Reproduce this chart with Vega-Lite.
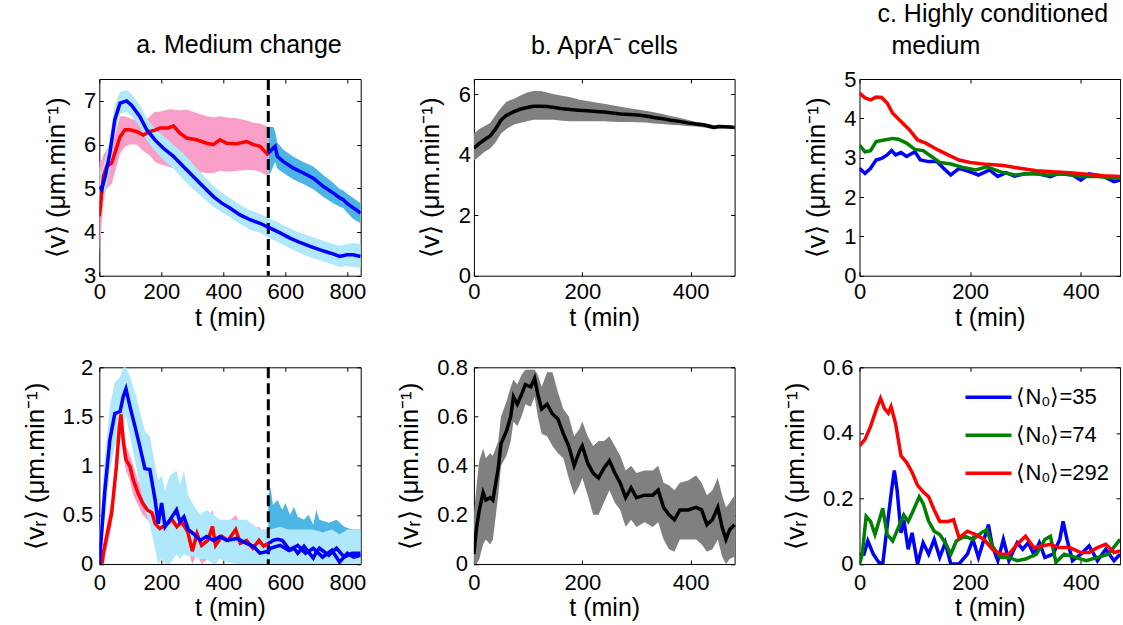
{
  "$schema": "https://vega.github.io/schema/vega-lite/v6.json",
  "padding": {"left": 22.3, "top": 2, "right": 0, "bottom": 0},
  "background": "white",
  "config": {
    "view": {"stroke": null},
    "axis": {"domainColor": "#000", "domainWidth": 1, "tickColor": "#000", "tickWidth": 1, "tickSize": -4, "labelColor": "#000", "titleColor": "#000", "labelFont": "Liberation Sans", "titleFont": "Liberation Sans", "labelFontSize": 22, "titleFontSize": 25, "titleFontWeight": "normal", "grid": false, "zindex": 1, "labelOverlap": false, "labelFlush": false},
    "axisY": {"titleFontSize": 26},
    "title": {"font": "Liberation Sans", "fontSize": 25, "fontWeight": "normal", "color": "#000", "frame": "group", "baseline": "alphabetic"}
  },
  "resolve": {"scale": {"color": "independent"}, "legend": {"color": "independent"}},
  "datasets": {
    "aTop": [
      {"s":"red","t":0,"v":4.36,"lo":3.5,"hi":5.6},{"s":"red","t":8,"v":4.9,"lo":4.2,"hi":5.65},{"s":"red","t":13,"v":5.27,"lo":4.7,"hi":5.75},{"s":"red","t":24,"v":5.5,"lo":5.0,"hi":5.9},{"s":"red","t":40,"v":5.58,"lo":5.1,"hi":6.0},{"s":"red","t":50,"v":5.8,"lo":5.35,"hi":6.2},{"s":"red","t":67,"v":6.18,"lo":5.8,"hi":6.65},{"s":"red","t":83,"v":6.34,"lo":5.95,"hi":6.65},{"s":"red","t":99,"v":6.34,"lo":6.0,"hi":6.6},{"s":"red","t":120,"v":6.3,"lo":6.0,"hi":6.55},{"s":"red","t":142,"v":6.22,"lo":5.85,"hi":6.5},{"s":"red","t":163,"v":6.3,"lo":5.75,"hi":6.65},{"s":"red","t":180,"v":6.33,"lo":5.6,"hi":6.75},{"s":"red","t":196,"v":6.38,"lo":5.55,"hi":6.75},{"s":"red","t":223,"v":6.38,"lo":5.5,"hi":6.8},{"s":"red","t":239,"v":6.43,"lo":5.45,"hi":6.8},{"s":"red","t":260,"v":6.26,"lo":5.42,"hi":6.78},{"s":"red","t":282,"v":6.15,"lo":5.4,"hi":6.8},{"s":"red","t":314,"v":6.11,"lo":5.38,"hi":6.72},{"s":"red","t":346,"v":6.03,"lo":5.35,"hi":6.65},{"s":"red","t":368,"v":6.0,"lo":5.35,"hi":6.62},{"s":"red","t":389,"v":6.11,"lo":5.4,"hi":6.65},{"s":"red","t":411,"v":6.03,"lo":5.38,"hi":6.62},{"s":"red","t":443,"v":6.02,"lo":5.4,"hi":6.6},{"s":"red","t":475,"v":6.07,"lo":5.42,"hi":6.55},{"s":"red","t":497,"v":6.0,"lo":5.42,"hi":6.5},{"s":"red","t":518,"v":5.96,"lo":5.38,"hi":6.48},{"s":"red","t":540,"v":5.8,"lo":5.3,"hi":6.42},{"s":"red","t":545,"v":5.75,"lo":5.25,"hi":6.4},
      {"s":"blue","t":0,"v":5.04,"lo":4.6,"hi":5.5},{"s":"blue","t":7.5,"v":4.97,"lo":4.6,"hi":5.35},{"s":"blue","t":20,"v":5.3,"lo":4.95,"hi":5.7},{"s":"blue","t":34,"v":5.8,"lo":5.45,"hi":6.15},{"s":"blue","t":50,"v":6.57,"lo":6.25,"hi":6.9},{"s":"blue","t":67,"v":6.95,"lo":6.7,"hi":7.2},{"s":"blue","t":88,"v":7.0,"lo":6.75,"hi":7.25},{"s":"blue","t":104,"v":6.9,"lo":6.65,"hi":7.15},{"s":"blue","t":131,"v":6.64,"lo":6.4,"hi":6.9},{"s":"blue","t":153,"v":6.34,"lo":6.1,"hi":6.6},{"s":"blue","t":180,"v":6.1,"lo":5.85,"hi":6.35},{"s":"blue","t":206,"v":5.92,"lo":5.65,"hi":6.2},{"s":"blue","t":239,"v":5.73,"lo":5.45,"hi":6.0},{"s":"blue","t":271,"v":5.5,"lo":5.2,"hi":5.8},{"s":"blue","t":303,"v":5.27,"lo":4.98,"hi":5.55},{"s":"blue","t":335,"v":5.04,"lo":4.78,"hi":5.3},{"s":"blue","t":368,"v":4.81,"lo":4.58,"hi":5.05},{"s":"blue","t":395,"v":4.66,"lo":4.45,"hi":4.9},{"s":"blue","t":421,"v":4.55,"lo":4.35,"hi":4.78},{"s":"blue","t":454,"v":4.39,"lo":4.18,"hi":4.62},{"s":"blue","t":486,"v":4.28,"lo":4.05,"hi":4.5},{"s":"blue","t":518,"v":4.2,"lo":3.98,"hi":4.42},{"s":"blue","t":551,"v":4.09,"lo":3.85,"hi":4.3},{"s":"blue","t":583,"v":3.98,"lo":3.75,"hi":4.2},{"s":"blue","t":615,"v":3.86,"lo":3.62,"hi":4.08},{"s":"blue","t":647,"v":3.76,"lo":3.52,"hi":3.98},{"s":"blue","t":680,"v":3.67,"lo":3.42,"hi":3.9},{"s":"blue","t":712,"v":3.59,"lo":3.35,"hi":3.82},{"s":"blue","t":744,"v":3.52,"lo":3.28,"hi":3.75},{"s":"blue","t":776,"v":3.44,"lo":3.2,"hi":3.68},{"s":"blue","t":798,"v":3.48,"lo":3.22,"hi":3.72},{"s":"blue","t":819,"v":3.48,"lo":3.2,"hi":3.75},{"s":"blue","t":843,"v":3.44,"lo":3.18,"hi":3.72},
      {"s":"blue2","t":545,"v":5.8,"lo":5.3,"hi":6.35},{"s":"blue2","t":552,"v":5.85,"lo":5.35,"hi":6.4},{"s":"blue2","t":561,"v":5.92,"lo":5.5,"hi":6.4},{"s":"blue2","t":567,"v":5.96,"lo":5.6,"hi":6.3},{"s":"blue2","t":574,"v":5.73,"lo":5.45,"hi":6.05},{"s":"blue2","t":594,"v":5.61,"lo":5.35,"hi":5.88},{"s":"blue2","t":626,"v":5.46,"lo":5.2,"hi":5.72},{"s":"blue2","t":658,"v":5.35,"lo":5.1,"hi":5.6},{"s":"blue2","t":690,"v":5.23,"lo":4.98,"hi":5.5},{"s":"blue2","t":723,"v":5.04,"lo":4.8,"hi":5.3},{"s":"blue2","t":755,"v":4.89,"lo":4.65,"hi":5.12},{"s":"blue2","t":776,"v":4.78,"lo":4.58,"hi":4.98},{"s":"blue2","t":787,"v":4.74,"lo":4.55,"hi":4.95},{"s":"blue2","t":798,"v":4.66,"lo":4.45,"hi":4.88},{"s":"blue2","t":819,"v":4.55,"lo":4.3,"hi":4.78},{"s":"blue2","t":843,"v":4.43,"lo":4.2,"hi":4.65}
    ],
    "aBot": [
      {"s":"red","t":0,"v":0,"lo":0,"hi":0.05},{"s":"red","t":10,"v":0.02,"lo":0,"hi":0.1},{"s":"red","t":13,"v":0.11,"lo":0,"hi":0.2},{"s":"red","t":24,"v":0.28,"lo":0.15,"hi":0.4},{"s":"red","t":40,"v":0.52,"lo":0.4,"hi":0.65},{"s":"red","t":55,"v":0.99,"lo":0.85,"hi":1.15},{"s":"red","t":65,"v":1.4,"lo":1.25,"hi":1.5},{"s":"red","t":70,"v":1.52,"lo":1.35,"hi":1.55},{"s":"red","t":77,"v":1.26,"lo":1.1,"hi":1.4},{"s":"red","t":86,"v":1.06,"lo":0.95,"hi":1.2},{"s":"red","t":99,"v":0.99,"lo":0.85,"hi":1.1},{"s":"red","t":110,"v":0.85,"lo":0.7,"hi":1.0},{"s":"red","t":125,"v":0.72,"lo":0.6,"hi":0.85},{"s":"red","t":140,"v":0.62,"lo":0.5,"hi":0.75},{"s":"red","t":155,"v":0.55,"lo":0.45,"hi":0.65},{"s":"red","t":170,"v":0.52,"lo":0.4,"hi":0.65},{"s":"red","t":180,"v":0.41,"lo":0.3,"hi":0.52},{"s":"red","t":195,"v":0.36,"lo":0.25,"hi":0.48},{"s":"red","t":220,"v":0.41,"lo":0.3,"hi":0.52},{"s":"red","t":235,"v":0.45,"lo":0.32,"hi":0.55},{"s":"red","t":250,"v":0.38,"lo":0.25,"hi":0.5},{"s":"red","t":265,"v":0.43,"lo":0.3,"hi":0.55},{"s":"red","t":285,"v":0.33,"lo":0.15,"hi":0.5},{"s":"red","t":300,"v":0.13,"lo":0.0,"hi":0.35},{"s":"red","t":315,"v":0.31,"lo":0.1,"hi":0.5},{"s":"red","t":330,"v":0.19,"lo":0.0,"hi":0.4},{"s":"red","t":350,"v":0.24,"lo":0.05,"hi":0.45},{"s":"red","t":365,"v":0.38,"lo":0.2,"hi":0.55},{"s":"red","t":375,"v":0.19,"lo":0.0,"hi":0.4},{"s":"red","t":395,"v":0.28,"lo":0.1,"hi":0.45},{"s":"red","t":415,"v":0.24,"lo":0.05,"hi":0.42},{"s":"red","t":440,"v":0.35,"lo":0.15,"hi":0.5},{"s":"red","t":455,"v":0.21,"lo":0.02,"hi":0.4},{"s":"red","t":475,"v":0.24,"lo":0.05,"hi":0.4},{"s":"red","t":495,"v":0.16,"lo":0.0,"hi":0.35},{"s":"red","t":515,"v":0.24,"lo":0.08,"hi":0.38},{"s":"red","t":530,"v":0.18,"lo":0.05,"hi":0.32},{"s":"red","t":545,"v":0.21,"lo":0.1,"hi":0.3},
      {"s":"blue","t":0,"v":0,"lo":0,"hi":0.3},{"s":"blue","t":18,"v":0.75,"lo":0.45,"hi":1.1},{"s":"blue","t":34,"v":1.26,"lo":0.95,"hi":1.6},{"s":"blue","t":50,"v":1.53,"lo":1.2,"hi":1.85},{"s":"blue","t":67,"v":1.55,"lo":1.25,"hi":1.9},{"s":"blue","t":77,"v":1.7,"lo":1.4,"hi":2.0},{"s":"blue","t":86,"v":1.78,"lo":1.5,"hi":2.0},{"s":"blue","t":99,"v":1.6,"lo":1.3,"hi":1.9},{"s":"blue","t":115,"v":1.4,"lo":1.05,"hi":1.75},{"s":"blue","t":131,"v":1.19,"lo":0.8,"hi":1.55},{"s":"blue","t":147,"v":0.97,"lo":0.55,"hi":1.35},{"s":"blue","t":163,"v":0.96,"lo":0.4,"hi":1.3},{"s":"blue","t":180,"v":0.65,"lo":0.15,"hi":1.0},{"s":"blue","t":190,"v":0.41,"lo":0,"hi":0.85},{"s":"blue","t":201,"v":0.62,"lo":0.05,"hi":0.9},{"s":"blue","t":212,"v":0.38,"lo":0,"hi":0.75},{"s":"blue","t":228,"v":0.45,"lo":0,"hi":0.9},{"s":"blue","t":249,"v":0.55,"lo":0.1,"hi":0.95},{"s":"blue","t":260,"v":0.43,"lo":0.05,"hi":0.8},{"s":"blue","t":273,"v":0.48,"lo":0.1,"hi":0.95},{"s":"blue","t":287,"v":0.35,"lo":0.08,"hi":0.7},{"s":"blue","t":303,"v":0.31,"lo":0.08,"hi":0.6},{"s":"blue","t":325,"v":0.24,"lo":0.05,"hi":0.5},{"s":"blue","t":346,"v":0.28,"lo":0.05,"hi":0.55},{"s":"blue","t":368,"v":0.24,"lo":0.0,"hi":0.5},{"s":"blue","t":389,"v":0.28,"lo":0.05,"hi":0.45},{"s":"blue","t":411,"v":0.24,"lo":0.02,"hi":0.45},{"s":"blue","t":443,"v":0.26,"lo":0.0,"hi":0.45},{"s":"blue","t":475,"v":0.21,"lo":0.0,"hi":0.45},{"s":"blue","t":497,"v":0.18,"lo":0.0,"hi":0.4},{"s":"blue","t":518,"v":0.11,"lo":0.0,"hi":0.35},{"s":"blue","t":545,"v":0.13,"lo":0.0,"hi":0.35},{"s":"blue","t":551,"v":0.16,"lo":0.0,"hi":0.35},{"s":"blue","t":583,"v":0.19,"lo":0.0,"hi":0.38},{"s":"blue","t":610,"v":0.14,"lo":0.0,"hi":0.35},{"s":"blue","t":640,"v":0.19,"lo":0.0,"hi":0.35},{"s":"blue","t":665,"v":0.11,"lo":0.0,"hi":0.35},{"s":"blue","t":690,"v":0.16,"lo":0.0,"hi":0.35},{"s":"blue","t":720,"v":0.07,"lo":0.0,"hi":0.32},{"s":"blue","t":750,"v":0.14,"lo":0.0,"hi":0.35},{"s":"blue","t":775,"v":0.02,"lo":0.0,"hi":0.3},{"s":"blue","t":800,"v":0.11,"lo":0.0,"hi":0.35},{"s":"blue","t":820,"v":0.07,"lo":0.0,"hi":0.35},{"s":"blue","t":843,"v":0.09,"lo":0.0,"hi":0.35},
      {"s":"blue2","t":545,"v":0.21,"lo":0.1,"hi":0.7},{"s":"blue2","t":552,"v":0.22,"lo":0.1,"hi":0.78},{"s":"blue2","t":560,"v":0.24,"lo":0.12,"hi":0.6},{"s":"blue2","t":575,"v":0.25,"lo":0.12,"hi":0.65},{"s":"blue2","t":590,"v":0.24,"lo":0.1,"hi":0.55},{"s":"blue2","t":600,"v":0.2,"lo":0.08,"hi":0.62},{"s":"blue2","t":615,"v":0.14,"lo":0.05,"hi":0.5},{"s":"blue2","t":628,"v":0.16,"lo":0.05,"hi":0.58},{"s":"blue2","t":640,"v":0.11,"lo":0.02,"hi":0.48},{"s":"blue2","t":660,"v":0.18,"lo":0.05,"hi":0.45},{"s":"blue2","t":675,"v":0.12,"lo":0.03,"hi":0.5},{"s":"blue2","t":690,"v":0.06,"lo":0.0,"hi":0.4},{"s":"blue2","t":700,"v":0.12,"lo":0.02,"hi":0.55},{"s":"blue2","t":710,"v":0.16,"lo":0.05,"hi":0.45},{"s":"blue2","t":740,"v":0.09,"lo":0.02,"hi":0.42},{"s":"blue2","t":765,"v":0.16,"lo":0.05,"hi":0.45},{"s":"blue2","t":790,"v":0.07,"lo":0.0,"hi":0.38},{"s":"blue2","t":815,"v":0.11,"lo":0.02,"hi":0.35},{"s":"blue2","t":843,"v":0.11,"lo":0.02,"hi":0.35}
    ],
    "bTop": [
      {"t":0,"v":4.21,"lo":3.8,"hi":4.7},{"t":10,"v":4.37,"lo":3.95,"hi":4.85},{"t":20,"v":4.5,"lo":4.1,"hi":4.95},{"t":30,"v":4.62,"lo":4.2,"hi":5.05},{"t":40,"v":4.85,"lo":4.4,"hi":5.3},{"t":50,"v":5.14,"lo":4.7,"hi":5.55},{"t":60,"v":5.3,"lo":4.85,"hi":5.75},{"t":74,"v":5.42,"lo":5.0,"hi":5.85},{"t":85,"v":5.5,"lo":5.05,"hi":5.95},{"t":98,"v":5.56,"lo":5.1,"hi":6.05},{"t":110,"v":5.6,"lo":5.15,"hi":6.1},{"t":123,"v":5.6,"lo":5.15,"hi":6.1},{"t":135,"v":5.59,"lo":5.15,"hi":6.05},{"t":148,"v":5.56,"lo":5.15,"hi":6.0},{"t":163,"v":5.52,"lo":5.12,"hi":5.95},{"t":178,"v":5.49,"lo":5.1,"hi":5.9},{"t":193,"v":5.47,"lo":5.1,"hi":5.82},{"t":209,"v":5.45,"lo":5.1,"hi":5.77},{"t":225,"v":5.43,"lo":5.1,"hi":5.72},{"t":240,"v":5.41,"lo":5.1,"hi":5.68},{"t":255,"v":5.38,"lo":5.09,"hi":5.63},{"t":271,"v":5.34,"lo":5.08,"hi":5.58},{"t":287,"v":5.33,"lo":5.08,"hi":5.53},{"t":302,"v":5.31,"lo":5.07,"hi":5.49},{"t":317,"v":5.28,"lo":5.06,"hi":5.45},{"t":332,"v":5.23,"lo":5.03,"hi":5.4},{"t":348,"v":5.19,"lo":5.01,"hi":5.34},{"t":363,"v":5.14,"lo":4.99,"hi":5.28},{"t":379,"v":5.1,"lo":4.97,"hi":5.22},{"t":394,"v":5.05,"lo":4.95,"hi":5.15},{"t":410,"v":5.01,"lo":4.93,"hi":5.08},{"t":425,"v":4.98,"lo":4.9,"hi":5.05},{"t":443,"v":4.9,"lo":4.84,"hi":4.97},{"t":452,"v":4.93,"lo":4.87,"hi":4.99},{"t":462,"v":4.92,"lo":4.87,"hi":4.97},{"t":472,"v":4.91,"lo":4.86,"hi":4.96},{"t":481,"v":4.9,"lo":4.85,"hi":4.95}
    ],
    "bBot": [
      {"t":0,"v":0.04,"lo":0,"hi":0.2},{"t":5,"v":0.15,"lo":0.0,"hi":0.32},{"t":10,"v":0.22,"lo":0.02,"hi":0.42},{"t":17,"v":0.29,"lo":0.08,"hi":0.47},{"t":22,"v":0.26,"lo":0.1,"hi":0.43},{"t":30,"v":0.27,"lo":0.08,"hi":0.45},{"t":35,"v":0.26,"lo":0.1,"hi":0.44},{"t":45,"v":0.39,"lo":0.28,"hi":0.5},{"t":50,"v":0.49,"lo":0.4,"hi":0.6},{"t":60,"v":0.54,"lo":0.44,"hi":0.66},{"t":68,"v":0.6,"lo":0.5,"hi":0.72},{"t":73,"v":0.68,"lo":0.58,"hi":0.75},{"t":80,"v":0.65,"lo":0.56,"hi":0.73},{"t":88,"v":0.69,"lo":0.6,"hi":0.77},{"t":95,"v":0.73,"lo":0.65,"hi":0.79},{"t":105,"v":0.72,"lo":0.64,"hi":0.79},{"t":112,"v":0.755,"lo":0.68,"hi":0.79},{"t":118,"v":0.69,"lo":0.6,"hi":0.77},{"t":125,"v":0.63,"lo":0.53,"hi":0.72},{"t":135,"v":0.65,"lo":0.52,"hi":0.78},{"t":145,"v":0.61,"lo":0.48,"hi":0.78},{"t":155,"v":0.59,"lo":0.45,"hi":0.7},{"t":165,"v":0.53,"lo":0.43,"hi":0.63},{"t":175,"v":0.48,"lo":0.35,"hi":0.6},{"t":185,"v":0.4,"lo":0.28,"hi":0.52},{"t":195,"v":0.46,"lo":0.32,"hi":0.55},{"t":200,"v":0.48,"lo":0.35,"hi":0.58},{"t":210,"v":0.41,"lo":0.28,"hi":0.52},{"t":220,"v":0.37,"lo":0.2,"hi":0.48},{"t":230,"v":0.35,"lo":0.2,"hi":0.5},{"t":240,"v":0.39,"lo":0.25,"hi":0.5},{"t":250,"v":0.42,"lo":0.3,"hi":0.52},{"t":260,"v":0.37,"lo":0.25,"hi":0.48},{"t":270,"v":0.33,"lo":0.22,"hi":0.44},{"t":280,"v":0.27,"lo":0.15,"hi":0.38},{"t":290,"v":0.31,"lo":0.18,"hi":0.4},{"t":300,"v":0.27,"lo":0.15,"hi":0.37},{"t":315,"v":0.28,"lo":0.17,"hi":0.38},{"t":330,"v":0.28,"lo":0.15,"hi":0.38},{"t":340,"v":0.3,"lo":0.17,"hi":0.4},{"t":350,"v":0.23,"lo":0.1,"hi":0.33},{"t":360,"v":0.2,"lo":0.06,"hi":0.32},{"t":370,"v":0.18,"lo":0.05,"hi":0.3},{"t":380,"v":0.22,"lo":0.1,"hi":0.33},{"t":395,"v":0.22,"lo":0.1,"hi":0.34},{"t":410,"v":0.23,"lo":0.1,"hi":0.36},{"t":420,"v":0.22,"lo":0.08,"hi":0.33},{"t":430,"v":0.16,"lo":0.05,"hi":0.28},{"t":440,"v":0.18,"lo":0.06,"hi":0.3},{"t":450,"v":0.23,"lo":0.1,"hi":0.35},{"t":458,"v":0.15,"lo":0.03,"hi":0.28},{"t":465,"v":0.1,"lo":0.0,"hi":0.23},{"t":472,"v":0.14,"lo":0.02,"hi":0.25},{"t":481,"v":0.16,"lo":0.03,"hi":0.28}
    ],
    "cTop": [
      {"s":"⟨N₀⟩=35","t":0,"v":2.73},{"s":"⟨N₀⟩=35","t":10,"v":2.6},{"s":"⟨N₀⟩=35","t":20,"v":2.73},{"s":"⟨N₀⟩=35","t":30,"v":2.94},{"s":"⟨N₀⟩=35","t":40,"v":2.98},{"s":"⟨N₀⟩=35","t":50,"v":3.07},{"s":"⟨N₀⟩=35","t":58,"v":3.18},{"s":"⟨N₀⟩=35","t":65,"v":3.07},{"s":"⟨N₀⟩=35","t":75,"v":3.13},{"s":"⟨N₀⟩=35","t":85,"v":3.03},{"s":"⟨N₀⟩=35","t":100,"v":3.15},{"s":"⟨N₀⟩=35","t":110,"v":2.94},{"s":"⟨N₀⟩=35","t":125,"v":2.9},{"s":"⟨N₀⟩=35","t":140,"v":2.9},{"s":"⟨N₀⟩=35","t":155,"v":2.69},{"s":"⟨N₀⟩=35","t":165,"v":2.56},{"s":"⟨N₀⟩=35","t":180,"v":2.73},{"s":"⟨N₀⟩=35","t":200,"v":2.64},{"s":"⟨N₀⟩=35","t":215,"v":2.56},{"s":"⟨N₀⟩=35","t":235,"v":2.69},{"s":"⟨N₀⟩=35","t":250,"v":2.52},{"s":"⟨N₀⟩=35","t":265,"v":2.62},{"s":"⟨N₀⟩=35","t":280,"v":2.53},{"s":"⟨N₀⟩=35","t":300,"v":2.59},{"s":"⟨N₀⟩=35","t":320,"v":2.6},{"s":"⟨N₀⟩=35","t":345,"v":2.52},{"s":"⟨N₀⟩=35","t":360,"v":2.6},{"s":"⟨N₀⟩=35","t":385,"v":2.56},{"s":"⟨N₀⟩=35","t":400,"v":2.43},{"s":"⟨N₀⟩=35","t":415,"v":2.59},{"s":"⟨N₀⟩=35","t":440,"v":2.53},{"s":"⟨N₀⟩=35","t":460,"v":2.39},{"s":"⟨N₀⟩=35","t":471,"v":2.43},
      {"s":"⟨N₀⟩=74","t":0,"v":3.32},{"s":"⟨N₀⟩=74","t":10,"v":3.15},{"s":"⟨N₀⟩=74","t":20,"v":3.18},{"s":"⟨N₀⟩=74","t":30,"v":3.41},{"s":"⟨N₀⟩=74","t":45,"v":3.45},{"s":"⟨N₀⟩=74","t":60,"v":3.49},{"s":"⟨N₀⟩=74","t":70,"v":3.47},{"s":"⟨N₀⟩=74","t":85,"v":3.37},{"s":"⟨N₀⟩=74","t":100,"v":3.21},{"s":"⟨N₀⟩=74","t":115,"v":3.18},{"s":"⟨N₀⟩=74","t":130,"v":3.03},{"s":"⟨N₀⟩=74","t":145,"v":2.88},{"s":"⟨N₀⟩=74","t":165,"v":2.84},{"s":"⟨N₀⟩=74","t":185,"v":2.76},{"s":"⟨N₀⟩=74","t":210,"v":2.69},{"s":"⟨N₀⟩=74","t":230,"v":2.77},{"s":"⟨N₀⟩=74","t":255,"v":2.64},{"s":"⟨N₀⟩=74","t":280,"v":2.56},{"s":"⟨N₀⟩=74","t":310,"v":2.6},{"s":"⟨N₀⟩=74","t":340,"v":2.56},{"s":"⟨N₀⟩=74","t":370,"v":2.59},{"s":"⟨N₀⟩=74","t":400,"v":2.52},{"s":"⟨N₀⟩=74","t":430,"v":2.52},{"s":"⟨N₀⟩=74","t":471,"v":2.47},
      {"s":"⟨N₀⟩=292","t":0,"v":4.64},{"s":"⟨N₀⟩=292","t":10,"v":4.52},{"s":"⟨N₀⟩=292","t":20,"v":4.47},{"s":"⟨N₀⟩=292","t":30,"v":4.54},{"s":"⟨N₀⟩=292","t":40,"v":4.53},{"s":"⟨N₀⟩=292","t":50,"v":4.39},{"s":"⟨N₀⟩=292","t":60,"v":4.13},{"s":"⟨N₀⟩=292","t":75,"v":3.92},{"s":"⟨N₀⟩=292","t":90,"v":3.71},{"s":"⟨N₀⟩=292","t":105,"v":3.45},{"s":"⟨N₀⟩=292","t":120,"v":3.37},{"s":"⟨N₀⟩=292","t":140,"v":3.21},{"s":"⟨N₀⟩=292","t":160,"v":3.07},{"s":"⟨N₀⟩=292","t":180,"v":2.94},{"s":"⟨N₀⟩=292","t":200,"v":2.88},{"s":"⟨N₀⟩=292","t":230,"v":2.83},{"s":"⟨N₀⟩=292","t":260,"v":2.8},{"s":"⟨N₀⟩=292","t":290,"v":2.73},{"s":"⟨N₀⟩=292","t":320,"v":2.67},{"s":"⟨N₀⟩=292","t":350,"v":2.64},{"s":"⟨N₀⟩=292","t":380,"v":2.62},{"s":"⟨N₀⟩=292","t":410,"v":2.58},{"s":"⟨N₀⟩=292","t":440,"v":2.54},{"s":"⟨N₀⟩=292","t":471,"v":2.52}
    ],
    "cBot": [
      {"s":"⟨N₀⟩=35","t":0,"v":0.03},{"s":"⟨N₀⟩=35","t":8,"v":0.03},{"s":"⟨N₀⟩=35","t":15,"v":0.07},{"s":"⟨N₀⟩=35","t":25,"v":0.03},{"s":"⟨N₀⟩=35","t":35,"v":0.005},{"s":"⟨N₀⟩=35","t":42,"v":0},{"s":"⟨N₀⟩=35","t":50,"v":0.115},{"s":"⟨N₀⟩=35","t":58,"v":0.225},{"s":"⟨N₀⟩=35","t":63,"v":0.285},{"s":"⟨N₀⟩=35","t":68,"v":0.225},{"s":"⟨N₀⟩=35","t":75,"v":0.095},{"s":"⟨N₀⟩=35","t":80,"v":0.135},{"s":"⟨N₀⟩=35","t":88,"v":0.045},{"s":"⟨N₀⟩=35","t":95,"v":0.095},{"s":"⟨N₀⟩=35","t":105,"v":0},{"s":"⟨N₀⟩=35","t":115,"v":0.065},{"s":"⟨N₀⟩=35","t":125,"v":0.03},{"s":"⟨N₀⟩=35","t":135,"v":0.075},{"s":"⟨N₀⟩=35","t":145,"v":0.02},{"s":"⟨N₀⟩=35","t":155,"v":0.065},{"s":"⟨N₀⟩=35","t":165,"v":0},{"s":"⟨N₀⟩=35","t":180,"v":0},{"s":"⟨N₀⟩=35","t":195,"v":0.03},{"s":"⟨N₀⟩=35","t":205,"v":0.075},{"s":"⟨N₀⟩=35","t":215,"v":0.02},{"s":"⟨N₀⟩=35","t":225,"v":0.075},{"s":"⟨N₀⟩=35","t":233,"v":0.12},{"s":"⟨N₀⟩=35","t":240,"v":0.055},{"s":"⟨N₀⟩=35","t":250,"v":0.01},{"s":"⟨N₀⟩=35","t":260,"v":0.075},{"s":"⟨N₀⟩=35","t":270,"v":0.01},{"s":"⟨N₀⟩=35","t":285,"v":0.065},{"s":"⟨N₀⟩=35","t":295,"v":0.045},{"s":"⟨N₀⟩=35","t":305,"v":0.065},{"s":"⟨N₀⟩=35","t":315,"v":0.03},{"s":"⟨N₀⟩=35","t":325,"v":0.065},{"s":"⟨N₀⟩=35","t":335,"v":0.02},{"s":"⟨N₀⟩=35","t":350,"v":0.03},{"s":"⟨N₀⟩=35","t":362,"v":0.075},{"s":"⟨N₀⟩=35","t":368,"v":0.13},{"s":"⟨N₀⟩=35","t":375,"v":0.075},{"s":"⟨N₀⟩=35","t":385,"v":0.01},{"s":"⟨N₀⟩=35","t":400,"v":0.03},{"s":"⟨N₀⟩=35","t":415,"v":0.055},{"s":"⟨N₀⟩=35","t":430,"v":0.01},{"s":"⟨N₀⟩=35","t":445,"v":0.045},{"s":"⟨N₀⟩=35","t":460,"v":0.01},{"s":"⟨N₀⟩=35","t":471,"v":0.03},
      {"s":"⟨N₀⟩=74","t":0,"v":0},{"s":"⟨N₀⟩=74","t":5,"v":0.03},{"s":"⟨N₀⟩=74","t":12,"v":0.145},{"s":"⟨N₀⟩=74","t":20,"v":0.13},{"s":"⟨N₀⟩=74","t":28,"v":0.09},{"s":"⟨N₀⟩=74","t":35,"v":0.13},{"s":"⟨N₀⟩=74","t":42,"v":0.17},{"s":"⟨N₀⟩=74","t":50,"v":0.09},{"s":"⟨N₀⟩=74","t":60,"v":0.07},{"s":"⟨N₀⟩=74","t":70,"v":0.11},{"s":"⟨N₀⟩=74","t":80,"v":0.15},{"s":"⟨N₀⟩=74","t":88,"v":0.13},{"s":"⟨N₀⟩=74","t":95,"v":0.155},{"s":"⟨N₀⟩=74","t":108,"v":0.205},{"s":"⟨N₀⟩=74","t":115,"v":0.185},{"s":"⟨N₀⟩=74","t":125,"v":0.13},{"s":"⟨N₀⟩=74","t":135,"v":0.1},{"s":"⟨N₀⟩=74","t":145,"v":0.09},{"s":"⟨N₀⟩=74","t":155,"v":0.065},{"s":"⟨N₀⟩=74","t":165,"v":0.03},{"s":"⟨N₀⟩=74","t":175,"v":0.07},{"s":"⟨N₀⟩=74","t":190,"v":0.085},{"s":"⟨N₀⟩=74","t":205,"v":0.075},{"s":"⟨N₀⟩=74","t":220,"v":0.095},{"s":"⟨N₀⟩=74","t":230,"v":0.105},{"s":"⟨N₀⟩=74","t":240,"v":0.055},{"s":"⟨N₀⟩=74","t":255,"v":0.02},{"s":"⟨N₀⟩=74","t":270,"v":0.02},{"s":"⟨N₀⟩=74","t":285,"v":0.01},{"s":"⟨N₀⟩=74","t":300,"v":0.015},{"s":"⟨N₀⟩=74","t":320,"v":0.03},{"s":"⟨N₀⟩=74","t":335,"v":0.075},{"s":"⟨N₀⟩=74","t":345,"v":0.085},{"s":"⟨N₀⟩=74","t":355,"v":0.005},{"s":"⟨N₀⟩=74","t":370,"v":0.03},{"s":"⟨N₀⟩=74","t":390,"v":0.02},{"s":"⟨N₀⟩=74","t":410,"v":0.01},{"s":"⟨N₀⟩=74","t":430,"v":0.02},{"s":"⟨N₀⟩=74","t":450,"v":0.03},{"s":"⟨N₀⟩=74","t":471,"v":0.075},
      {"s":"⟨N₀⟩=292","t":0,"v":0.36},{"s":"⟨N₀⟩=292","t":10,"v":0.38},{"s":"⟨N₀⟩=292","t":20,"v":0.42},{"s":"⟨N₀⟩=292","t":30,"v":0.47},{"s":"⟨N₀⟩=292","t":38,"v":0.505},{"s":"⟨N₀⟩=292","t":45,"v":0.475},{"s":"⟨N₀⟩=292","t":52,"v":0.46},{"s":"⟨N₀⟩=292","t":57,"v":0.48},{"s":"⟨N₀⟩=292","t":65,"v":0.43},{"s":"⟨N₀⟩=292","t":75,"v":0.33},{"s":"⟨N₀⟩=292","t":85,"v":0.31},{"s":"⟨N₀⟩=292","t":95,"v":0.28},{"s":"⟨N₀⟩=292","t":105,"v":0.24},{"s":"⟨N₀⟩=292","t":115,"v":0.22},{"s":"⟨N₀⟩=292","t":125,"v":0.205},{"s":"⟨N₀⟩=292","t":135,"v":0.165},{"s":"⟨N₀⟩=292","t":145,"v":0.13},{"s":"⟨N₀⟩=292","t":160,"v":0.13},{"s":"⟨N₀⟩=292","t":170,"v":0.135},{"s":"⟨N₀⟩=292","t":180,"v":0.08},{"s":"⟨N₀⟩=292","t":195,"v":0.1},{"s":"⟨N₀⟩=292","t":210,"v":0.09},{"s":"⟨N₀⟩=292","t":225,"v":0.075},{"s":"⟨N₀⟩=292","t":240,"v":0.045},{"s":"⟨N₀⟩=292","t":255,"v":0.03},{"s":"⟨N₀⟩=292","t":270,"v":0.03},{"s":"⟨N₀⟩=292","t":285,"v":0.06},{"s":"⟨N₀⟩=292","t":300,"v":0.085},{"s":"⟨N₀⟩=292","t":315,"v":0.05},{"s":"⟨N₀⟩=292","t":330,"v":0.055},{"s":"⟨N₀⟩=292","t":345,"v":0.06},{"s":"⟨N₀⟩=292","t":360,"v":0.05},{"s":"⟨N₀⟩=292","t":380,"v":0.05},{"s":"⟨N₀⟩=292","t":400,"v":0.035},{"s":"⟨N₀⟩=292","t":415,"v":0.035},{"s":"⟨N₀⟩=292","t":430,"v":0.05},{"s":"⟨N₀⟩=292","t":445,"v":0.06},{"s":"⟨N₀⟩=292","t":460,"v":0.035},{"s":"⟨N₀⟩=292","t":471,"v":0.04}
    ]
  },
  "columns": 3,
  "bounds": "flush",
  "align": "each",
  "spacing": {"row": 91.3, "column": 112.6},
  "concat": [
    {
      "width": 261.4, "height": 196.7,
      "title": {"text": "a. Medium change", "anchor": "middle", "dx": 9, "offset": 20},
      "data": {"name": "aTop"},
      "layer": [
        {"transform": [{"filter": "datum.s == 'blue2'"}], "mark": {"type": "area", "color": "#4db5e6", "opacity": 1, "clip": true},
         "encoding": {
           "x": {"field": "t", "type": "quantitative", "scale": {"domain": [0, 843], "nice": false, "zero": false}, "axis": {"orient": "bottom", "values": [0,200,400,600,800], "format": "d", "labelPadding": 9.4, "title": "t (min)", "titlePadding": 5.5, "minExtent": 24, "maxExtent": 24}},
           "y": {"field": "lo", "type": "quantitative", "scale": {"domain": [3, 7.5], "nice": false, "zero": false}, "axis": {"orient": "left", "values": [3,4,5,6,7], "format": "~f", "labelPadding": 7.5, "title": "⟨v⟩ (μm.min⁻¹)", "titlePadding": 10, "minExtent": 20, "maxExtent": 20}},
           "y2": {"field": "hi"}}},
        {"transform": [{"filter": "datum.s == 'red'"}], "mark": {"type": "area", "color": "#f99dc9", "opacity": 1, "clip": true},
         "encoding": {"x": {"field": "t", "type": "quantitative", "axis": null}, "y": {"field": "lo", "type": "quantitative", "axis": null}, "y2": {"field": "hi"}}},
        {"transform": [{"filter": "datum.s == 'blue'"}], "mark": {"type": "area", "color": "#aee8fa", "opacity": 1, "clip": true},
         "encoding": {"x": {"field": "t", "type": "quantitative", "axis": null}, "y": {"field": "lo", "type": "quantitative", "axis": null}, "y2": {"field": "hi"}}},
        {"data": {"values": [{"t": 545}]}, "mark": {"type": "rule", "color": "#000", "strokeWidth": 3, "strokeDash": [11, 5]},
         "encoding": {"x": {"field": "t", "type": "quantitative", "axis": null}}},
        {"transform": [{"filter": "datum.s == 'red'"}], "mark": {"type": "line", "color": "#ff0000", "strokeWidth": 3.5, "clip": true},
         "encoding": {"x": {"field": "t", "type": "quantitative", "axis": null}, "y": {"field": "v", "type": "quantitative", "axis": null}}},
        {"transform": [{"filter": "datum.s == 'blue'"}], "mark": {"type": "line", "color": "#0000ff", "strokeWidth": 3.5, "clip": true},
         "encoding": {"x": {"field": "t", "type": "quantitative", "axis": null}, "y": {"field": "v", "type": "quantitative", "axis": null}}},
        {"transform": [{"filter": "datum.s == 'blue2'"}], "mark": {"type": "line", "color": "#0000ff", "strokeWidth": 3.5, "clip": true},
         "encoding": {"x": {"field": "t", "type": "quantitative", "axis": {"orient": "top", "values": [0,200,400,600,800], "labels": false, "title": null, "minExtent": 0, "maxExtent": 0}}, "y": {"field": "v", "type": "quantitative", "axis": {"orient": "right", "values": [3,4,5,6,7], "labels": false, "title": null, "minExtent": 0, "maxExtent": 0}}}}
      ],
      "resolve": {"axis": {"x": "independent", "y": "independent"}}
    },
    {
      "width": 272.8, "height": 196.7,
      "title": {"text": "b. AprA⁻ cells", "anchor": "start", "dx": 57, "offset": 20},
      "data": {"name": "bTop"},
      "layer": [
        {"mark": {"type": "area", "color": "#808080", "opacity": 1, "clip": true},
         "encoding": {
           "x": {"field": "t", "type": "quantitative", "scale": {"domain": [0, 481], "range": [0, 260.7], "nice": false, "zero": false}, "axis": {"orient": "bottom", "values": [0,200,400], "format": "d", "labelPadding": 9.4, "title": "t (min)", "titlePadding": 5.5, "minExtent": 24, "maxExtent": 24, "titleX": 130.35}},
           "y": {"field": "lo", "type": "quantitative", "scale": {"domain": [0, 6.5], "nice": false, "zero": false}, "axis": {"orient": "left", "values": [0,2,4,6], "format": "~f", "labelPadding": 7.5, "title": "⟨v⟩ (μm.min⁻¹)", "titlePadding": 10, "minExtent": 20, "maxExtent": 20}},
           "y2": {"field": "hi"}}},
        {"mark": {"type": "line", "color": "#000000", "strokeWidth": 3.5, "clip": true},
         "encoding": {"x": {"field": "t", "type": "quantitative", "axis": {"orient": "top", "values": [0,200,400], "labels": false, "title": null, "minExtent": 0, "maxExtent": 0}}, "y": {"field": "v", "type": "quantitative", "axis": {"orient": "right", "values": [0,2,4,6], "labels": false, "title": null, "offset": -12.1, "minExtent": 0, "maxExtent": 0}}}}
      ],
      "resolve": {"axis": {"x": "independent", "y": "independent"}}
    },
    {
      "width": 260.6, "height": 196.7,
      "title": {"text": ["c. Highly conditioned", "\u200b\u00a0\u00a0medium"], "anchor": "start", "align": "left", "dx": 18, "offset": 9.2, "lineHeight": 31.6},
      "data": {"name": "cTop"},
      "layer": [
        {"transform": [{"filter": "datum.s == '⟨N₀⟩=35'"}], "mark": {"type": "line", "color": "#0000ff", "strokeWidth": 3.5, "clip": true},
         "encoding": {
           "x": {"field": "t", "type": "quantitative", "scale": {"domain": [0, 471], "nice": false, "zero": false}, "axis": {"orient": "bottom", "values": [0,200,400], "format": "d", "labelPadding": 9.4, "title": "t (min)", "titlePadding": 5.5, "minExtent": 24, "maxExtent": 24}},
           "y": {"field": "v", "type": "quantitative", "scale": {"domain": [0, 5], "nice": false, "zero": false}, "axis": {"orient": "left", "values": [0,1,2,3,4,5], "format": "~f", "labelPadding": 7.5, "title": "⟨v⟩ (μm.min⁻¹)", "titlePadding": 10, "minExtent": 20, "maxExtent": 20}}}},
        {"transform": [{"filter": "datum.s == '⟨N₀⟩=74'"}], "mark": {"type": "line", "color": "#008000", "strokeWidth": 3.5, "clip": true},
         "encoding": {"x": {"field": "t", "type": "quantitative", "axis": null}, "y": {"field": "v", "type": "quantitative", "axis": null}}},
        {"transform": [{"filter": "datum.s == '⟨N₀⟩=292'"}], "mark": {"type": "line", "color": "#ff0000", "strokeWidth": 3.5, "clip": true},
         "encoding": {"x": {"field": "t", "type": "quantitative", "axis": {"orient": "top", "values": [0,200,400], "labels": false, "title": null, "minExtent": 0, "maxExtent": 0}}, "y": {"field": "v", "type": "quantitative", "axis": {"orient": "right", "values": [0,1,2,3,4,5], "labels": false, "title": null, "minExtent": 0, "maxExtent": 0}}}}
      ],
      "resolve": {"axis": {"x": "independent", "y": "independent"}}
    },
    {
      "width": 261.4, "height": 196.7,
      "data": {"name": "aBot"},
      "layer": [
        {"transform": [{"filter": "datum.s == 'blue2'"}], "mark": {"type": "area", "color": "#4db5e6", "opacity": 1, "clip": true},
         "encoding": {
           "x": {"field": "t", "type": "quantitative", "scale": {"domain": [0, 843], "nice": false, "zero": false}, "axis": {"orient": "bottom", "values": [0,200,400,600,800], "format": "d", "labelPadding": 12.5, "title": "t (min)", "titlePadding": 8, "minExtent": 24, "maxExtent": 24}},
           "y": {"field": "lo", "type": "quantitative", "scale": {"domain": [0, 2], "nice": false, "zero": false}, "axis": {"orient": "left", "values": [0,0.5,1,1.5,2], "format": "~f", "labelPadding": 10.5, "title": "⟨vᵣ⟩ (μm.min⁻¹)", "titlePadding": 31, "minExtent": 20, "maxExtent": 20}},
           "y2": {"field": "hi"}}},
        {"transform": [{"filter": "datum.s == 'red'"}], "mark": {"type": "area", "color": "#f99dc9", "opacity": 1, "clip": true},
         "encoding": {"x": {"field": "t", "type": "quantitative", "axis": null}, "y": {"field": "lo", "type": "quantitative", "axis": null}, "y2": {"field": "hi"}}},
        {"transform": [{"filter": "datum.s == 'blue'"}], "mark": {"type": "area", "color": "#aee8fa", "opacity": 1, "clip": true},
         "encoding": {"x": {"field": "t", "type": "quantitative", "axis": null}, "y": {"field": "lo", "type": "quantitative", "axis": null}, "y2": {"field": "hi"}}},
        {"data": {"values": [{"t": 545}]}, "mark": {"type": "rule", "color": "#000", "strokeWidth": 3, "strokeDash": [11, 5]},
         "encoding": {"x": {"field": "t", "type": "quantitative", "axis": null}}},
        {"transform": [{"filter": "datum.s == 'red'"}], "mark": {"type": "line", "color": "#ff0000", "strokeWidth": 3.5, "clip": true},
         "encoding": {"x": {"field": "t", "type": "quantitative", "axis": null}, "y": {"field": "v", "type": "quantitative", "axis": null}}},
        {"transform": [{"filter": "datum.s == 'blue'"}], "mark": {"type": "line", "color": "#0000ff", "strokeWidth": 3.5, "clip": true},
         "encoding": {"x": {"field": "t", "type": "quantitative", "axis": null}, "y": {"field": "v", "type": "quantitative", "axis": null}}},
        {"transform": [{"filter": "datum.s == 'blue2'"}], "mark": {"type": "line", "color": "#0000ff", "strokeWidth": 3.5, "clip": true},
         "encoding": {"x": {"field": "t", "type": "quantitative", "axis": {"orient": "top", "values": [0,200,400,600,800], "labels": false, "title": null, "minExtent": 0, "maxExtent": 0}}, "y": {"field": "v", "type": "quantitative", "axis": {"orient": "right", "values": [0,0.5,1,1.5,2], "labels": false, "title": null, "minExtent": 0, "maxExtent": 0}}}}
      ],
      "resolve": {"axis": {"x": "independent", "y": "independent"}}
    },
    {
      "width": 272.8, "height": 196.7,
      "data": {"name": "bBot"},
      "layer": [
        {"mark": {"type": "area", "color": "#808080", "opacity": 1, "clip": true},
         "encoding": {
           "x": {"field": "t", "type": "quantitative", "scale": {"domain": [0, 481], "range": [0, 260.7], "nice": false, "zero": false}, "axis": {"orient": "bottom", "values": [0,200,400], "format": "d", "labelPadding": 12.5, "title": "t (min)", "titlePadding": 8, "minExtent": 24, "maxExtent": 24, "titleX": 130.35}},
           "y": {"field": "lo", "type": "quantitative", "scale": {"domain": [0, 0.8], "nice": false, "zero": false}, "axis": {"orient": "left", "values": [0,0.2,0.4,0.6,0.8], "format": "~f", "labelPadding": 10.5, "title": "⟨vᵣ⟩ (μm.min⁻¹)", "titlePadding": 31, "minExtent": 20, "maxExtent": 20}},
           "y2": {"field": "hi"}}},
        {"mark": {"type": "line", "color": "#000000", "strokeWidth": 3.5, "clip": true},
         "encoding": {"x": {"field": "t", "type": "quantitative", "axis": {"orient": "top", "values": [0,200,400], "labels": false, "title": null, "minExtent": 0, "maxExtent": 0}}, "y": {"field": "v", "type": "quantitative", "axis": {"orient": "right", "values": [0,0.2,0.4,0.6,0.8], "labels": false, "title": null, "offset": -12.1, "minExtent": 0, "maxExtent": 0}}}}
      ],
      "resolve": {"axis": {"x": "independent", "y": "independent"}}
    },
    {
      "width": 260.6, "height": 196.7,
      "data": {"name": "cBot"},
      "layer": [
        {"transform": [{"filter": "datum.s == '⟨N₀⟩=35'"}], "mark": {"type": "line", "strokeWidth": 3.5, "clip": true},
         "encoding": {
           "x": {"field": "t", "type": "quantitative", "scale": {"domain": [0, 471], "nice": false, "zero": false}, "axis": {"orient": "bottom", "values": [0,200,400], "format": "d", "labelPadding": 12.5, "title": "t (min)", "titlePadding": 8, "minExtent": 24, "maxExtent": 24}},
           "y": {"field": "v", "type": "quantitative", "scale": {"domain": [0, 0.6], "nice": false, "zero": false}, "axis": {"orient": "left", "values": [0,0.2,0.4,0.6], "format": "~f", "labelPadding": 10.5, "title": "⟨vᵣ⟩ (μm.min⁻¹)", "titlePadding": 31, "minExtent": 20, "maxExtent": 20}},
           "color": {"field": "s", "type": "nominal", "scale": {"domain": ["⟨N₀⟩=35", "⟨N₀⟩=74", "⟨N₀⟩=292"], "range": ["#0000ff", "#008000", "#ff0000"]},
             "legend": {"orient": "none", "legendX": 104, "legendY": 11, "title": null, "symbolType": "stroke", "symbolStrokeWidth": 3.5, "symbolSize": 2116, "labelFontSize": 22, "labelFont": "Liberation Sans", "labelColor": "#000", "clipHeight": 38, "rowPadding": 0, "padding": 0, "labelOffset": 3, "symbolOpacity": 1}}}},
        {"transform": [{"filter": "datum.s == '⟨N₀⟩=74'"}], "mark": {"type": "line", "strokeWidth": 3.5, "clip": true},
         "encoding": {"x": {"field": "t", "type": "quantitative", "axis": null}, "y": {"field": "v", "type": "quantitative", "axis": null}, "color": {"field": "s", "type": "nominal"}}},
        {"transform": [{"filter": "datum.s == '⟨N₀⟩=292'"}], "mark": {"type": "line", "strokeWidth": 3.5, "clip": true},
         "encoding": {"x": {"field": "t", "type": "quantitative", "axis": {"orient": "top", "values": [0,200,400], "labels": false, "title": null, "minExtent": 0, "maxExtent": 0}}, "y": {"field": "v", "type": "quantitative", "axis": {"orient": "right", "values": [0,0.2,0.4,0.6], "labels": false, "title": null, "minExtent": 0, "maxExtent": 0}}, "color": {"field": "s", "type": "nominal"}}}
      ],
      "resolve": {"axis": {"x": "independent", "y": "independent"}}
    }
  ]
}
